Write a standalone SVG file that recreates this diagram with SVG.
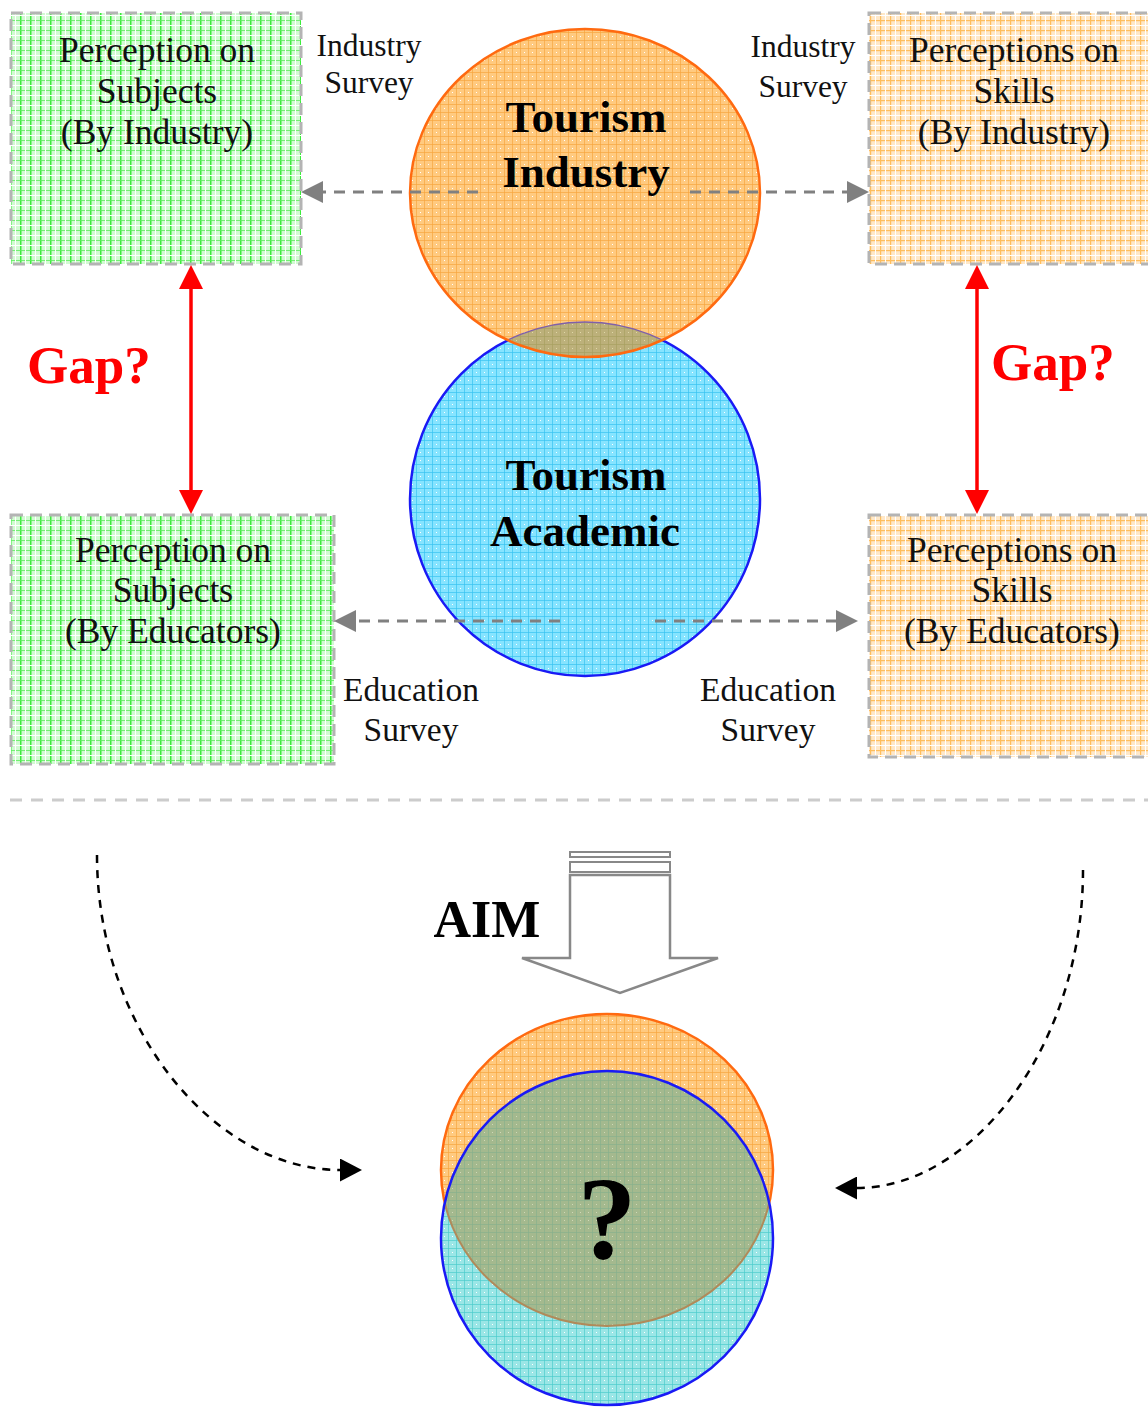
<svg xmlns="http://www.w3.org/2000/svg" width="1148" height="1407" viewBox="0 0 1148 1407">
<defs>
<style>
.box{stroke:#b4b4b4;stroke-width:3;stroke-dasharray:12 7}
.t{font-family:"Liberation Serif","Times New Roman",serif;font-size:35.5px;fill:#111;text-anchor:middle}
.edu{font-family:"Liberation Serif","Times New Roman",serif;font-size:33.5px;fill:#111;text-anchor:middle}
.lbl{font-family:"Liberation Serif","Times New Roman",serif;font-size:31.5px;fill:#111;text-anchor:middle}
.big{font-family:"Liberation Serif","Times New Roman",serif;font-weight:bold;font-size:45px;fill:#000;text-anchor:middle}
.gap{font-family:"Liberation Serif","Times New Roman",serif;font-weight:bold;font-size:53px;fill:#ff0000}
.gd{stroke:#808080;stroke-width:3;stroke-dasharray:11 8;fill:none}
.red{stroke:#ff0000;stroke-width:3.5;fill:none}
.cd{stroke:#000;stroke-width:2.5;stroke-dasharray:8 7;fill:none}
</style>
<pattern id="pGreen" width="10" height="10" patternUnits="userSpaceOnUse">
<rect width="10" height="10" fill="#d2fbd2"/>
<rect x="0" width="1.5" height="10" fill="#3cec3c"/>
<rect y="0" width="10" height="0.8" fill="#5cee5c"/>
<rect x="5" width="1" height="10" fill="#ffffff"/>
<rect y="5" width="10" height="1" fill="#ffffff"/>
</pattern>
<pattern id="pOrange" width="10" height="10" patternUnits="userSpaceOnUse">
<rect width="10" height="10" fill="#ffe8c8"/>
<rect x="0" width="1.2" height="10" fill="#ffbe5c"/>
<rect y="0" width="10" height="1.2" fill="#ffbe5c"/>
<rect x="5" width="1" height="10" fill="#ffffff"/>
<rect y="5" width="10" height="1" fill="#ffffff"/>
</pattern>
<pattern id="pCirO" width="8" height="8" patternUnits="userSpaceOnUse">
<rect width="8" height="8" fill="#ffca80"/>
<rect x="0" width="0.7" height="8" fill="#f7a640"/>
<rect y="0" width="8" height="0.7" fill="#f7a640"/>
<rect x="4" y="4" width="1" height="1" fill="#ffffff"/>
</pattern>
<pattern id="pCirB" width="8" height="8" patternUnits="userSpaceOnUse">
<rect width="8" height="8" fill="#86e4ff"/>
<rect x="0" width="0.7" height="8" fill="#38c4f2"/>
<rect y="0" width="8" height="0.7" fill="#38c4f2"/>
<rect x="4" y="4" width="1" height="1" fill="#ffffff"/>
</pattern>
<pattern id="pCirT" width="8" height="8" patternUnits="userSpaceOnUse">
<rect width="8" height="8" fill="#9ae6e6"/>
<rect x="0" width="0.7" height="8" fill="#4ccccc"/>
<rect y="0" width="8" height="0.7" fill="#4ccccc"/>
<rect x="4" y="4" width="1" height="1" fill="#ffffff"/>
</pattern>
<pattern id="pOlive" width="8" height="8" patternUnits="userSpaceOnUse">
<rect width="8" height="8" fill="#bcb07a"/>
<rect x="0" width="0.7" height="8" fill="#a8a060"/>
<rect y="0" width="8" height="0.7" fill="#a8a060"/>
<rect x="4" y="4" width="1" height="1" fill="#e0d8a8"/>
</pattern>
<pattern id="pOlive2" width="8" height="8" patternUnits="userSpaceOnUse">
<rect width="8" height="8" fill="#a4b98e"/>
<rect x="0" width="0.7" height="8" fill="#88b08c"/>
<rect y="0" width="8" height="0.7" fill="#88b08c"/>
<rect x="4" y="4" width="1" height="1" fill="#d0d8b8"/>
</pattern>
<clipPath id="cBlueTop"><ellipse cx="585" cy="499" rx="175" ry="177"/></clipPath>
<clipPath id="cOrangeTop"><ellipse cx="585" cy="193" rx="175" ry="164"/></clipPath>
<clipPath id="cOrangeBot"><ellipse cx="607" cy="1170" rx="166" ry="156"/></clipPath>
<clipPath id="cBlueBot"><ellipse cx="607" cy="1238" rx="166" ry="167"/></clipPath>
<marker id="ag" markerWidth="22" markerHeight="22" refX="0" refY="11" orient="auto" markerUnits="userSpaceOnUse" viewBox="0 0 22 22"><path d="M0,0 L22,11 L0,22 Z" fill="#808080"/></marker>
<marker id="ar" markerWidth="24" markerHeight="24" refX="0" refY="12" orient="auto-start-reverse" markerUnits="userSpaceOnUse" viewBox="0 0 24 24"><path d="M0,0 L24,12 L0,24 Z" fill="#ff0000"/></marker>
<marker id="ab" markerWidth="22" markerHeight="23" refX="0" refY="11.5" orient="auto" markerUnits="userSpaceOnUse" viewBox="0 0 22 23"><path d="M0,0 L22,11.5 L0,23 Z" fill="#000"/></marker>
</defs>
<rect width="1148" height="1407" fill="#ffffff"/>

<g id="box-subjects-industry">
<rect class="box" x="11" y="13" width="290" height="251" fill="url(#pGreen)"/>
<text class="t" x="157" y="62">Perception on</text>
<text class="t" x="157" y="103">Subjects</text>
<text class="t" x="157" y="144">(By Industry)</text>
</g>
<g id="box-skills-industry">
<rect class="box" x="869" y="13" width="292" height="251" fill="url(#pOrange)"/>
<text class="t" x="1014" y="62">Perceptions on</text>
<text class="t" x="1014" y="103">Skills</text>
<text class="t" x="1014" y="144">(By Industry)</text>
</g>
<g id="box-subjects-educators">
<rect class="box" x="11" y="515" width="323" height="249" fill="url(#pGreen)"/>
<text class="t" x="173" y="562">Perception on</text>
<text class="t" x="173" y="602">Subjects</text>
<text class="t" x="173" y="643">(By Educators)</text>
</g>
<g id="box-skills-educators">
<rect class="box" x="869" y="515" width="292" height="242" fill="url(#pOrange)"/>
<text class="t" x="1012" y="562">Perceptions on</text>
<text class="t" x="1012" y="602">Skills</text>
<text class="t" x="1012" y="643">(By Educators)</text>
</g>

<g id="tourism-academic">
<ellipse cx="585" cy="499" rx="175" ry="177" fill="url(#pCirB)" stroke="#1a1af5" stroke-width="2.5"/>
</g>
<g id="tourism-industry">
<ellipse cx="585" cy="193" rx="175" ry="164" fill="url(#pCirO)"/>
<ellipse cx="585" cy="193" rx="175" ry="164" fill="url(#pOlive)" clip-path="url(#cBlueTop)"/>
<ellipse cx="585" cy="499" rx="175" ry="177" fill="none" stroke="#8060a8" stroke-width="1.5" clip-path="url(#cOrangeTop)"/>
<ellipse cx="585" cy="193" rx="175" ry="164" fill="none" stroke="#ff6a10" stroke-width="2.5"/>
<text class="big" x="586" y="132">Tourism</text>
<text class="big" x="586" y="187">Industry</text>
</g>
<g id="academic-label">
<text class="big" x="586" y="490">Tourism</text>
<text class="big" x="585" y="546">Academic</text>
</g>

<g id="labels">
<text class="lbl" x="369" y="56">Industry</text>
<text class="lbl" x="369" y="93">Survey</text>
<text class="lbl" x="803" y="57">Industry</text>
<text class="lbl" x="803" y="97">Survey</text>
<text class="edu" x="411" y="701">Education</text>
<text class="edu" x="411" y="741">Survey</text>
<text class="edu" x="768" y="701">Education</text>
<text class="edu" x="768" y="741">Survey</text>
<text class="gap" x="27" y="383">Gap?</text>
<text class="gap" x="991" y="380">Gap?</text>
</g>

<g id="connectors">
<path class="gd" d="M478,192 H323" marker-end="url(#ag)"/>
<path class="gd" d="M690,192 H847" marker-end="url(#ag)"/>
<path class="gd" d="M560,621 H356" marker-end="url(#ag)"/>
<path class="gd" d="M655,621 H836" marker-end="url(#ag)"/>
<path class="red" d="M191,289 V490" marker-start="url(#ar)" marker-end="url(#ar)"/>
<path class="red" d="M977,289 V490" marker-start="url(#ar)" marker-end="url(#ar)"/>
<path class="cd" d="M97,855 C97,1029 215,1170 340,1170" marker-end="url(#ab)"/>
<path class="cd" d="M1083,870 C1083,1046 972,1188 857,1188" marker-end="url(#ab)"/>
</g>

<g id="separator">
<line x1="10" y1="800" x2="1148" y2="800" stroke="#cccccc" stroke-width="3" stroke-dasharray="12 9"/>
</g>

<g id="aim">
<rect x="570" y="852" width="100" height="5" fill="#fff" stroke="#888" stroke-width="2"/>
<rect x="570" y="862" width="100" height="10" fill="#fff" stroke="#888" stroke-width="2"/>
<path d="M570,875 H670 V958 H718 L620,993 L522,958 H570 Z" fill="#fff" stroke="#888" stroke-width="2.5"/>
<text x="487" y="937" font-family="Liberation Serif, Times New Roman, serif" font-weight="bold" font-size="52" text-anchor="middle" fill="#000">AIM</text>
</g>

<g id="result">
<ellipse cx="607" cy="1170" rx="166" ry="156" fill="url(#pCirO)" stroke="#ff6a10" stroke-width="2.5"/>
<ellipse cx="607" cy="1238" rx="166" ry="167" fill="url(#pCirT)"/>
<ellipse cx="607" cy="1238" rx="166" ry="167" fill="url(#pOlive2)" clip-path="url(#cOrangeBot)"/>
<ellipse cx="607" cy="1170" rx="166" ry="156" fill="none" stroke="#b08a5a" stroke-width="2" clip-path="url(#cBlueBot)"/>
<ellipse cx="607" cy="1238" rx="166" ry="167" fill="none" stroke="#1a1af5" stroke-width="2.5"/>
<text x="607" y="1258" font-family="Liberation Serif, Times New Roman, serif" font-weight="bold" font-size="118" text-anchor="middle" fill="#000">?</text>
</g>
</svg>
